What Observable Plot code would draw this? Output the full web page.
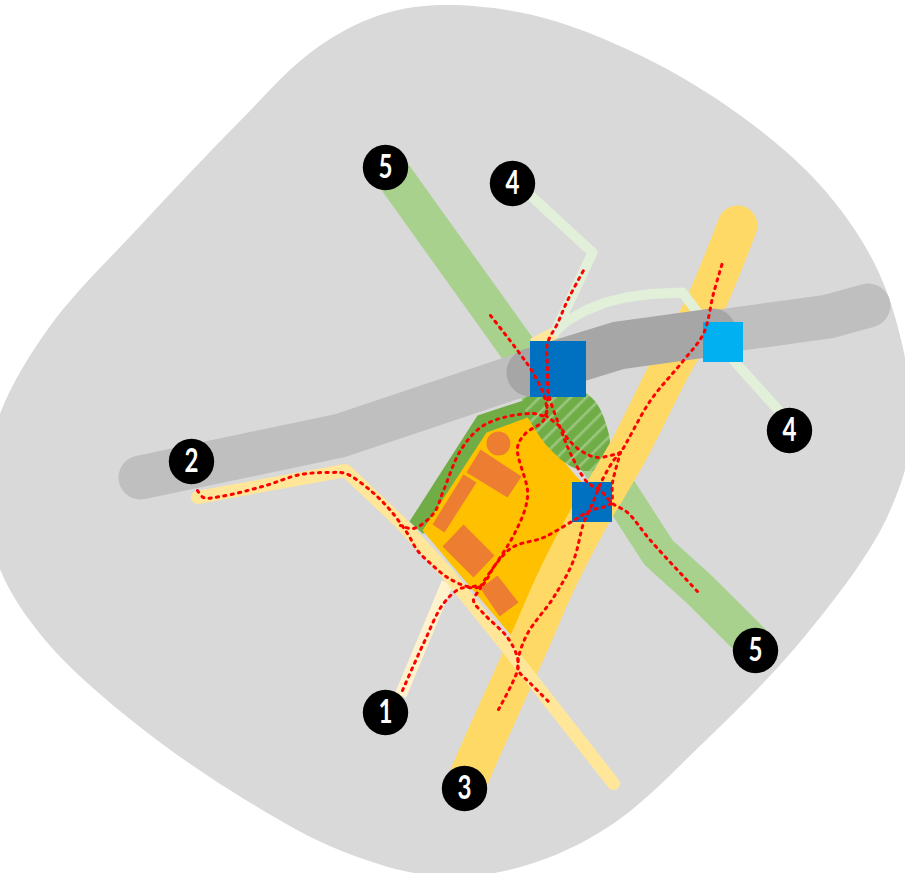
<!DOCTYPE html>
<html>
<head>
<meta charset="utf-8">
<script src="https://cdn.jsdelivr.net/npm/d3@7"></script>
<script src="https://cdn.jsdelivr.net/npm/@observablehq/plot@0.6"></script>
<style>
html,body{margin:0;padding:0;background:#fff;overflow:hidden}
svg{display:block}
</style>
</head>
<body>
<div id="chart"></div>
<script>
const blob = [[430,5],[530,14],[640,55],[740,115],[820,185],[875,265],[903,350],[912,430],[885,520],[805,635],[700,745],[610,825],[525,865],[440,876],[340,850],[230,790],[125,715],[45,640],[0,570],[-18,490],[0,412],[50,325],[140,225],[240,120],[310,52],[370,18]];
const road5 = [[384,162],[515,345],[618,490],[658,552],[700,590],[755,645]];
const road3 = [[737,225],[702,310],[670,367],[628,450],[587,520],[556,580],[531,637],[480,750],[463,790]];
const road2 = [[197,497],[345,470],[400,522],[447,573],[505,645],[613,783]];
const road1 = [[400,695],[447,582]];
const stub2 = [[530,338],[551,327],[560,328],[553,345],[530,345]];
const road4a = [[530,195],[592,252],[553,335]];
const road4b = [[553,332],[567,320],[585,310],[605,302],[625,297],[650,293.5],[682,292],[735,362],[780,412]];
const grayRoad = [[140,477],[340,435],[510,378],[618,345],[828,316],[868,305]];
const grayDark = [[530,372],[618,345],[712,332]];
const greenZone = [[409,521],[477,415],[535,396],[560,420],[520,520],[422,533]];
const goldZone = [[486,432],[527,417],[575,475],[600,500],[560,540],[515,640],[422,530]];
const parkZone = [[522,395],[528,417],[548,447],[575,468],[597,469],[609,450],[606,425],[592,398],[555,380]];
const rectA = [[480,449],[521,476],[507,497],[466,472]];
const rectB = [[463,474],[476,482],[444,532],[432,524]];
const rectC = [[463,524],[494,555],[473,577],[442,546]];
const rectD = [[497,575],[518,602],[499,616],[480,588]];
const orangeDot = [{x:498,y:443}];
const squaresBlue = [{x1:530,x2:586,y1:341,y2:397},{x1:572,x2:612,y1:482,y2:522}];
const squareCyan = [{x1:703,x2:743,y1:322,y2:362}];
const red1 = [[402,690],[423,643],[443,603],[460,588],[480,586],[493,567],[513,535],[525,507],[527,490],[517,447],[525,433],[543,420],[547,400],[547,367],[547,343],[557,323],[567,300],[583,270]];
const red2 = [[197,490],[203,497],[220,496],[262,486],[300,474],[330,472],[345,473],[370,490],[390,510],[407,533],[417,550],[430,563],[447,577],[467,586],[480,586],[473,600],[483,613],[507,637],[517,657],[518,670],[530,683],[550,703]];
const red3 = [[498,709],[517,670],[518,657],[527,633],[553,597],[573,560],[583,523],[592,503],[600,483],[613,460],[620,452],[650,400],[683,360],[703,333],[713,293],[722,262]];
const red4 = [[490,315],[517,350],[533,373],[545,400],[545,415],[533,413],[503,417],[480,427],[460,450],[443,490],[433,513],[413,528],[400,525]];
const red5 = [[547,367],[548,393],[560,428],[570,453],[587,482],[600,490],[612,503],[627,512],[650,540],[698,592]];
const red6 = [[545,415],[560,427],[567,438],[580,450],[597,457],[620,452]];
const red7 = [[480,586],[510,548],[543,537],[573,520],[590,510],[610,503],[612,482],[620,452]];
const badges = [
  {x:385,y:167,n:"5"},{x:512,y:183,n:"4"},{x:191,y:461,n:"2"},{x:385,y:712,n:"1"},
  {x:464,y:788,n:"3"},{x:755,y:650,n:"5"},{x:789,y:430,n:"4"}
];

const X = d => d[0], Y = d => d[1];
const poly = (pts, fill) => Plot.line(pts, {x:X, y:Y, fill, stroke:"none", curve:"linear-closed"});
const band = (pts, stroke, strokeWidth, extra = {}) =>
  Plot.line(pts, {x:X, y:Y, stroke, strokeWidth, strokeLinejoin:"round", strokeLinecap:"butt", ...extra});
const dashed = pts => Plot.line(pts, {x:X, y:Y, stroke:"#ff0000", strokeWidth:3, strokeDasharray:"2.2 5.3", strokeLinecap:"round", curve:"catmull-rom"});

const plot = Plot.plot({
  width:905, height:873, margin:0,
  x:{domain:[0,905], range:[0,905], axis:null},
  y:{domain:[0,873], range:[0,873], axis:null},
  style:{background:"#fff"},
  marks:[
    Plot.line(blob, {x:X, y:Y, fill:"#d9d9d9", stroke:"none", curve:"catmull-rom-closed"}),
    poly(greenZone, "#70ad47"),
    poly(goldZone, "#ffc000"),
    band(road5, "#a9d18e", 37),
    Plot.line(parkZone, {x:X, y:Y, fill:"url(#hatch)", stroke:"none", curve:"catmull-rom-closed"}),
    band(road3, "#ffd966", 40, {strokeLinecap:"round", curve:"catmull-rom"}),
    poly(stub2, "#ffe699"),
    band(road1, "#fff2cc", 12),
    band(road2, "#ffe699", 13, {strokeLinecap:"round"}),
    poly(rectA, "#ed7d31"), poly(rectB, "#ed7d31"), poly(rectC, "#ed7d31"), poly(rectD, "#ed7d31"),
    Plot.dot(orangeDot, {x:"x", y:"y", r:12, fill:"#ed7d31", stroke:"none"}),
    band(road4a, "#e2f0d9", 10),
    band(road4b, "#e2f0d9", 10),
    band(grayRoad, "#bfbfbf", 44, {strokeLinecap:"round"}),
    band(grayDark, "#a6a6a6", 48, {strokeLinecap:"round"}),
    Plot.rect(squaresBlue, {x1:"x1", x2:"x2", y1:"y1", y2:"y2", fill:"#0070c0", inset:0}),
    Plot.rect(squareCyan, {x1:"x1", x2:"x2", y1:"y1", y2:"y2", fill:"#00b0f0", inset:0}),
    ...[red1, red2, red3, red4, red5, red6, red7].map(dashed),
    Plot.dot(badges, {x:"x", y:"y", r:22.7, fill:"#000", stroke:"none"}),
    Plot.text(badges, {x:"x", y:"y", text:"n", fill:"#fff", fontSize:32, fontWeight:700,
      fontFamily:"Lato,sans-serif", textAnchor:"middle", lineAnchor:"middle"})
  ]
});

const svg = d3.select(plot);
const defs = svg.insert("defs", ":first-child");
const p = defs.append("pattern").attr("id","hatch").attr("patternUnits","userSpaceOnUse")
  .attr("width",11).attr("height",11).attr("patternTransform","rotate(45)");
p.append("rect").attr("width",11).attr("height",11).attr("fill","#70ad47");
p.append("rect").attr("x",0).attr("width",3.6).attr("height",11).attr("fill","#82b75f");
p.append("rect").attr("x",1.2).attr("width",1.2).attr("height",11).attr("fill","#a9d18e");
svg.selectAll("text").attr("textLength",14).attr("lengthAdjust","spacingAndGlyphs");
document.getElementById("chart").appendChild(plot);
</script>
</body>
</html>
